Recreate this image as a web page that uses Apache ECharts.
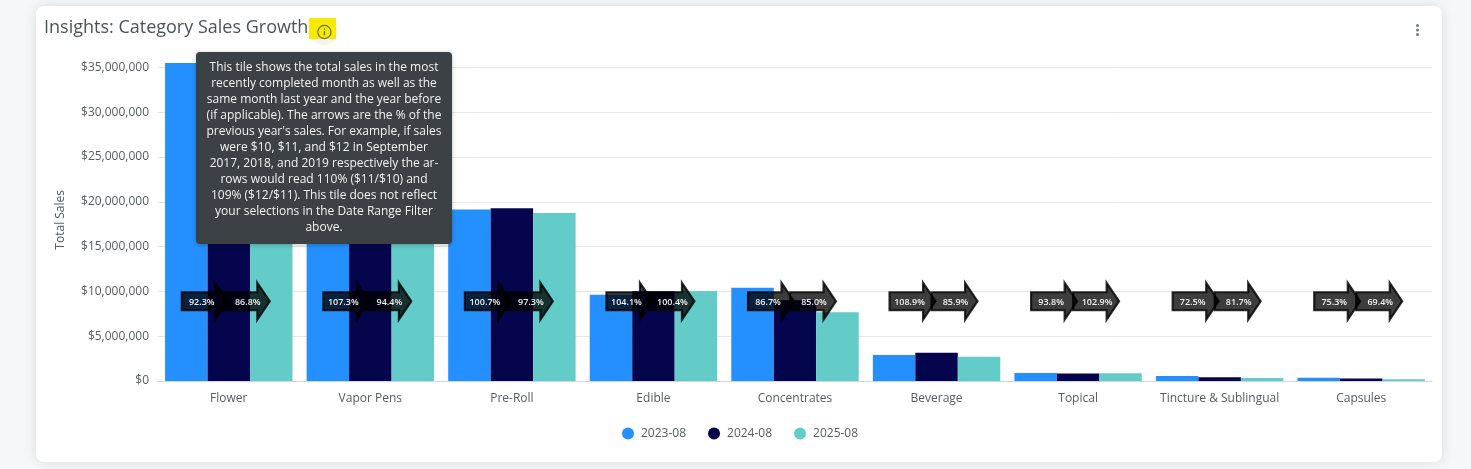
<!DOCTYPE html>
<html><head><meta charset="utf-8">
<style>
html,body{margin:0;padding:0;width:1471px;height:469px;overflow:hidden;background:#f6f7f9}
#card{position:absolute;left:36px;top:6px;width:1406px;height:456px;background:#fff;border-radius:8px;box-shadow:0 0 14px rgba(0,0,0,.11)}
#c{position:absolute;left:0;top:0;width:1471px;height:469px}
</style>
<script src="https://cdn.jsdelivr.net/npm/echarts@6/dist/echarts.min.js"></script>
</head><body><div id="card"></div><div id="c"></div>
<script>
const categories = ['Flower','Vapor Pens','Pre-Roll','Edible','Concentrates','Beverage','Topical','Tincture & Sublingual','Capsules'];
const sales2023 = [35500000,19000000,19150000,9620000,10400000,2900000,900000,570000,360000];
const sales2024 = [32770000,20390000,19280000,10010000,9020000,3160000,840000,410000,270000];
const sales2025 = [28440000,19250000,18760000,10050000,7670000,2710000,860000,340000,190000];
const growthFirst = ['92.3%','107.3%','100.7%','104.1%','86.7%','108.9%','93.8%','72.5%','75.3%'];
const growthSecond = ['86.8%','94.4%','97.3%','100.4%','85.0%','85.9%','102.9%','81.7%','69.4%'];
const seriesNames = ['2023-08','2024-08','2025-08'];
const arrowLevel = 8900000;
const infoText = [
 'This tile shows the total sales in the most',
 'recently completed month as well as the',
 'same month last year and the year before',
 '(if applicable). The arrows are the % of the',
 "previous year's sales. For example, if sales",
 'were $10, $11, and $12 in September',
 '2017, 2018, and 2019 respectively the ar-',
 'rows would read 110% ($11/$10) and',
 '109% ($12/$11). This tile does not reflect',
 'your selections in the Date Range Filter',
 'above.'
].join('\n');
const FONT = '"Open Sans", sans-serif';
const ARROW = 'path://M0 10 H35 V0 L48 19.5 L35 39 V29 H0 Z';
const colors = ['#2490ff','#05054e','#63cbc8'];

function arrowSeries(labels, dx, labelDx, z){
  return {
    type:'scatter', silent:true, z:z,
    symbol:ARROW, symbolSize:[46,37], symbolOffset:[dx,0],
    itemStyle:{color:'rgba(0,0,0,0.76)',borderColor:'rgba(0,0,0,0.8)',borderWidth:2,opacity:1},
    label:{show:true,position:'inside',offset:[labelDx-1,1],formatter:p=>p.data[2],color:'#f0f0f0',fontSize:9,fontWeight:600,fontFamily:FONT},
    data:labels.map((t,i)=>[categories[i],arrowLevel,t])
  };
}
const chart = echarts.init(document.getElementById('c'),null,{renderer:'canvas'});
chart.setOption({
  animation:false,
  backgroundColor:'transparent',
  color:colors,
  textStyle:{fontFamily:FONT},
  title:{text:'Insights: Category Sales Growth',left:39,top:14,textStyle:{fontFamily:FONT,fontSize:18,fontWeight:400,color:'#4b5357'}},
  grid:{left:158,right:39,top:22.6,height:358.4,containLabel:false},
  legend:{data:seriesNames,left:617,top:422.5,icon:'circle',itemWidth:12,itemHeight:12,itemGap:22,
    textStyle:{fontFamily:FONT,fontSize:12,color:'#555b5f',padding:[0,0,0,2]}},
  xAxis:{type:'category',data:categories,
    axisLine:{lineStyle:{color:'#ccd6eb',width:1}},axisTick:{show:false},
    axisLabel:{fontFamily:FONT,fontSize:12,color:'#555b5f',margin:12,interval:0}},
  yAxis:{type:'value',min:0,max:40000000,interval:5000000,
    name:'Total Sales',nameLocation:'middle',nameGap:91,
    nameTextStyle:{fontFamily:FONT,fontSize:12,color:'#555b5f',padding:[0,36,0,0]},
    axisLine:{show:false},axisTick:{show:false},
    splitLine:{showMaxLine:false,lineStyle:{color:'#e6e6e6',width:1}},
    axisLabel:{showMaxLabel:false,fontFamily:FONT,fontSize:12,color:'#555b5f',margin:9,padding:[5,0,0,0],
      formatter:v=>'$'+v.toLocaleString('en-US')}},
  series:[
    {name:seriesNames[0],type:'bar',data:sales2023,barGap:0,barCategoryGap:'10%',z:2},
    {name:seriesNames[1],type:'bar',data:sales2024,z:2},
    {name:seriesNames[2],type:'bar',data:sales2025,z:2},
    arrowSeries(growthFirst,-24,-2,5),
    arrowSeries(growthSecond,18,2,6)
  ],
  graphic:[
    {type:'circle',z:19,shape:{cx:324.5,cy:32,r:13},style:{fill:'#f3f3f3'}},
    {type:'rect',z:20,shape:{x:309,y:18,width:27,height:21},style:{fill:'#f5ea00'}},
    {type:'circle',z:21,shape:{cx:324.4,cy:32,r:6.6},style:{fill:'none',stroke:'#6e6f2e',lineWidth:1.2}},
    {type:'rect',z:21,shape:{x:323.8,y:31,width:1.3,height:4.4},style:{fill:'#6e6f2e'}},
    {type:'rect',z:21,shape:{x:323.8,y:28.4,width:1.3,height:1.4},style:{fill:'#6e6f2e'}},
    {type:'circle',z:21,shape:{cx:1417.5,cy:25.5,r:1.5},style:{fill:'#6f7a7a'}},
    {type:'circle',z:21,shape:{cx:1417.5,cy:30,r:1.5},style:{fill:'#6f7a7a'}},
    {type:'circle',z:21,shape:{cx:1417.5,cy:34.5,r:1.5},style:{fill:'#6f7a7a'}},
    {type:'rect',z:30,shape:{x:196,y:52,width:256,height:192,r:4},
      style:{fill:'#3b4144',shadowBlur:4,shadowColor:'rgba(0,0,0,0.25)',shadowOffsetY:1}},
    {type:'text',z:31,x:324,y:60,style:{text:infoText,fill:'#f2f3f3',font:'12px '+FONT,lineHeight:16,align:'center',textAlign:'center',verticalAlign:'top',textVerticalAlign:'top'}}
  ]
});
</script></body></html>
